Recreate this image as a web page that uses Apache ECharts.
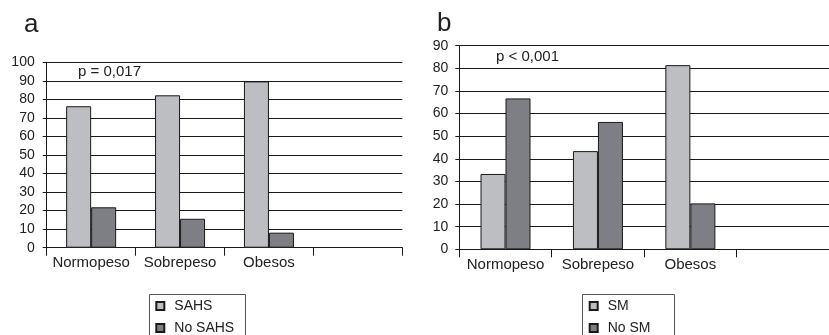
<!DOCTYPE html>
<html><head><meta charset="utf-8">
<script src="https://cdn.jsdelivr.net/npm/echarts@6/dist/echarts.min.js"></script>
<style>html,body{margin:0;padding:0;background:#fff}#c{width:829px;height:335px}</style>
</head><body><div id="c"></div>
<script>
const categories = ['Normopeso', 'Sobrepeso', 'Obesos', ''];
const sahs = [76.3, 82.2, 89.7];
const noSahs = [21.8, 15.6, 8.1];
const sm = [33.3, 43.4, 81.4];
const noSm = [66.7, 56.3, 20.3];
const yTicksA = { min: 0, max: 100, interval: 10 };
const yTicksB = { min: 0, max: 90, interval: 10 };

const FONT = '"Liberation Sans", Arial, Helvetica, sans-serif';
const LIGHT = '#bdbec2', DARK = '#7e7f84', INK = '#1a1a1a';

function xAx(gi) {
  return {
    type: 'category', gridIndex: gi, data: categories,
    axisLine: { show: true, lineStyle: { color: INK, width: 1 } },
    axisTick: { show: true, length: 8, lineStyle: { color: INK } },
    axisLabel: { fontFamily: FONT, fontSize: 15, color: '#222', margin: 8, interval: 0 },
    splitLine: { show: false }
  };
}
function yAx(gi, t, margin) {
  return {
    type: 'value', gridIndex: gi, min: t.min, max: t.max, interval: t.interval,
    axisLine: { show: true, lineStyle: { color: INK, width: 1 } },
    axisTick: { show: true, length: 4, lineStyle: { color: INK } },
    axisLabel: { fontFamily: FONT, fontSize: 14, color: '#222', margin: margin },
    splitLine: { show: true, lineStyle: { color: INK, width: 1 } }
  };
}
function bar(name, data, color, ax) {
  return {
    name, type: 'bar', data, xAxisIndex: ax, yAxisIndex: ax,
    barWidth: 25, barGap: '0%', animation: false,
    itemStyle: { color, borderColor: INK, borderWidth: 1 }
  };
}
function legend(names, left) {
  return {
    data: names, orient: 'vertical', left, top: 294, height: 36,
    itemWidth: 8, itemHeight: 8, itemGap: 8,
    padding: [5, 4, 3, 6],
    icon: 'rect',
    textStyle: { fontFamily: FONT, fontSize: 14, color: '#222', padding: [0, 0, 0, 5] }
  };
}
function box(x, w) {
  return { type: 'rect', shape: { x: x, y: 294.5, width: w, height: 60 },
    style: { fill: 'none', stroke: '#555', lineWidth: 1 }, silent: true, z: -1 };
}

const chart = echarts.init(document.getElementById('c'), null, { renderer: 'canvas' });
chart.setOption({
  animation: false,
  grid: [
    { left: 46.7, top: 62.3, width: 355.6, height: 185.4 },
    { left: 459.3, top: 45.7, width: 378.8, height: 203.6 }
  ],
  xAxis: [xAx(0), xAx(1)],
  yAxis: [yAx(0, yTicksA, 12), yAx(1, yTicksB, 11)],
  series: [
    bar('SAHS', sahs, LIGHT, 0),
    bar('No SAHS', noSahs, DARK, 0),
    bar('SM', sm, LIGHT, 1),
    bar('No SM', noSm, DARK, 1)
  ],
  legend: [legend(['SAHS', 'No SAHS'], 149.3), legend(['SM', 'No SM'], 582.7)],
  graphic: [
    box(149.5, 96), box(582.5, 92),
    { type: 'text', left: 24, top: 12, style: { text: 'a', font: '26px ' + FONT, fill: '#222' } },
    { type: 'text', left: 437, top: 11, style: { text: 'b', font: '26px ' + FONT, fill: '#222' } },
    { type: 'text', left: 78, top: 64, style: { text: 'p = 0,017', font: '15px ' + FONT, fill: '#222' } },
    { type: 'text', left: 496, top: 49, style: { text: 'p < 0,001', font: '15px ' + FONT, fill: '#222' } }
  ]
});
</script></body></html>
